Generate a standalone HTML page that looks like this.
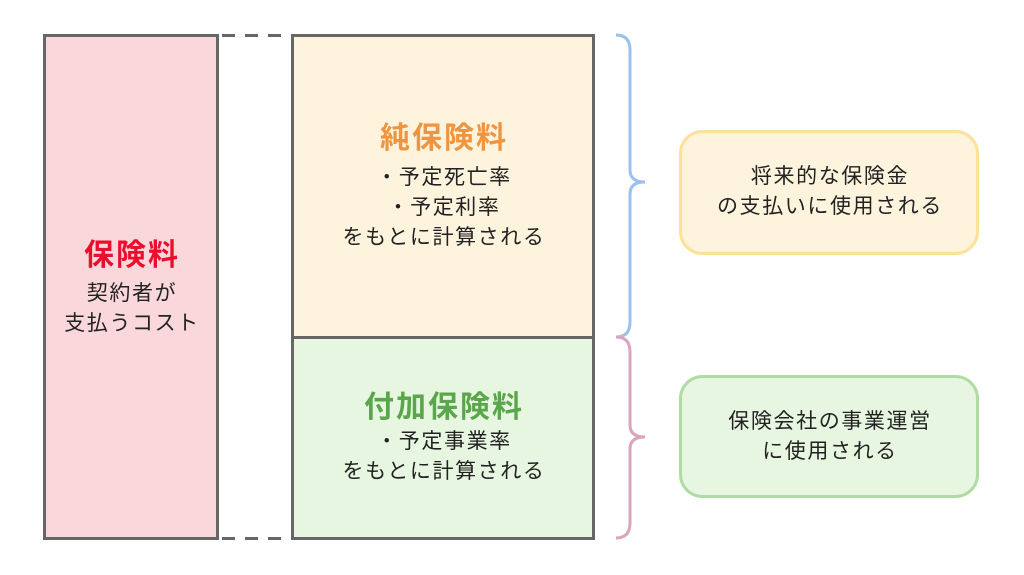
<!DOCTYPE html>
<html><head><meta charset="utf-8"><style>
body{margin:0;width:1024px;height:575px;background:#fff;overflow:hidden;font-family:"Liberation Sans","Noto Sans CJK JP",sans-serif;}
.t{position:absolute;text-align:center;white-space:nowrap;color:#222;}
.b{font-size:21px;letter-spacing:1.6px;line-height:30px}
.h{font-size:30px;font-weight:bold;letter-spacing:2px}
</style></head><body>
<svg width="1024" height="575" style="position:absolute;left:0;top:0">
<rect x="44.5" y="35.5" width="173" height="503" fill="#f9d7da" stroke="#666" stroke-width="3"/>
<rect x="292.5" y="35.5" width="301" height="302" fill="#fef4de" stroke="#666" stroke-width="3"/>
<rect x="292.5" y="337.5" width="301" height="201" fill="#e7f6e1" stroke="#666" stroke-width="3"/>
<line x1="217" y1="35.5" x2="292" y2="35.5" stroke="#666" stroke-width="3" stroke-dasharray="13,10" stroke-dashoffset="-5"/>
<line x1="217" y1="538.5" x2="292" y2="538.5" stroke="#666" stroke-width="3" stroke-dasharray="13,10" stroke-dashoffset="-5"/>
<path d="M616 35 Q630 35 630 50 L630 170 Q630 182 645 182 Q630 182 630 194 L630 322 Q630 337 616 337" fill="none" stroke="#9dc1ee" stroke-width="3"/>
<path d="M616 337 Q630 337 630 352 L630 425 Q630 437 645 437 Q630 437 630 449 L630 523 Q630 538 616 538" fill="none" stroke="#d9a5bf" stroke-width="3"/>
<rect x="680.5" y="131.5" width="297" height="122" rx="22" fill="#fef4de" stroke="#fde19a" stroke-width="3"/>
<rect x="680.5" y="376.5" width="297" height="120" rx="22" fill="#e7f6e1" stroke="#b1dba5" stroke-width="3"/>
</svg>
<div class="t h" style="left:44px;width:176px;top:230px;color:#e8102d">保険料</div>
<div class="t b" style="left:44px;width:176px;top:279px">契約者が<br>支払うコスト</div>
<div class="t h" style="left:292px;width:304px;top:113px;color:#f0953f">純保険料</div>
<div class="t b" style="left:292px;width:304px;top:163px">・予定死亡率<br>・予定利率<br>をもとに計算される</div>
<div class="t h" style="left:292px;width:304px;top:382px;color:#5aa64a">付加保険料</div>
<div class="t b" style="left:292px;width:304px;top:427px">・予定事業率<br>をもとに計算される</div>
<div class="t b" style="left:680px;width:300px;top:162px">将来的な保険金<br>の支払いに使用される</div>
<div class="t b" style="left:680px;width:300px;top:407px">保険会社の事業運営<br>に使用される</div>
</body></html>
